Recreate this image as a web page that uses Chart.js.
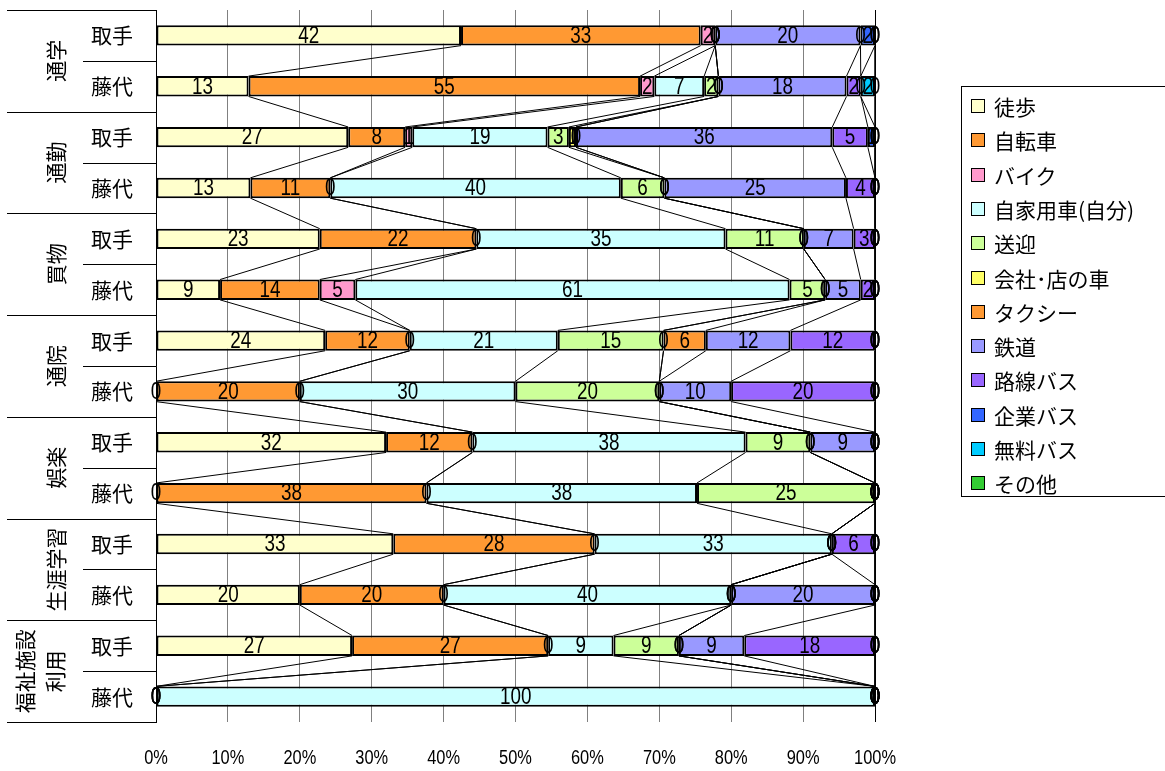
<!DOCTYPE html>
<html lang="ja">
<head>
<meta charset="utf-8">
<title>目的別 交通手段（取手・藤代）</title>
<script src="https://cdn.jsdelivr.net/npm/chart.js@4.4.1/dist/chart.umd.min.js"></script>
<style>
  html, body { margin: 0; padding: 0; background: #fff; overflow: hidden; }
  #wrap { position: relative; width: 1165px; height: 771px; }
  #chart { position: absolute; left: 0; top: 0; }
  #legend {
    position: absolute; left: 961px; top: 86px; width: 240px; height: 411px;
    border: 1px solid #000; box-sizing: border-box; background: #fff;
    font-family: 'Noto Sans CJK JP', sans-serif; font-size: 21px; color: #000;
  }
  #legend .item { position: absolute; left: 9px; height: 30px; display: flex; align-items: center; white-space: nowrap; }
  #legend .sw { width: 12px; height: 12px; border: 1.5px solid #000; margin-right: 9px; }
</style>
</head>
<body>
<div id="wrap">
  <canvas id="chart" width="1165" height="771"></canvas>
  <div id="legend"></div>
</div>
<script>
// 利用目的（大分類）と地区（小分類）
const purposes = [['通学'], ['通勤'], ['買物'], ['通院'], ['娯楽'], ['生涯学習'], ['福祉施設', '利用']];
const areas = ['取手', '藤代'];

// 交通手段ごとの構成比（%）：通学取手, 通学藤代, 通勤取手, 通勤藤代, 買物取手, 買物藤代,
// 通院取手, 通院藤代, 娯楽取手, 娯楽藤代, 生涯学習取手, 生涯学習藤代, 福祉取手, 福祉藤代
const walk       = [42, 13, 27, 13, 23,  9, 24,  0, 32,  0, 33, 20, 27,   0];
const bicycle    = [33, 55,  8, 11, 22, 14, 12, 20, 12, 38, 28, 20, 27,   0];
const motorbike  = [ 2,  2,  1,  0,  0,  5,  0,  0,  0,  0,  0,  0,  0,   0];
const ownCar     = [ 0,  7, 19, 40, 35, 61, 21, 30, 38, 38, 33, 40,  9, 100];
const pickup     = [ 0,  2,  3,  6, 11,  5, 15, 20,  9, 25,  0,  0,  9,   0];
const companyCar = [ 0,  0,  1,  0,  0,  0,  0,  0,  0,  0,  0,  0,  0,   0];
const taxi       = [ 0,  0,  0,  0,  0,  0,  6,  0,  0,  0,  0,  0,  0,   0];
const railway    = [20, 18, 36, 25,  7,  5, 12, 10,  9,  0,  0, 20,  9,   0];
const routeBus   = [ 0,  2,  5,  4,  3,  2, 12, 20,  0,  0,  6,  0, 18,   0];
const companyBus = [ 2,  0,  1,  0,  0,  0,  0,  0,  0,  0,  0,  0,  0,   0];
const freeBus    = [ 0,  2,  0,  0,  0,  0,  0,  0,  0,  0,  0,  0,  0,   0];
const other      = [ 0,  0,  0,  0,  0,  0,  0,  0,  0,  0,  0,  0,  0,   0];

const seriesNames = ['徒歩', '自転車', 'バイク', '自家用車(自分)', '送迎', '会社･店の車',
                     'タクシー', '鉄道', '路線バス', '企業バス', '無料バス', 'その他'];
const seriesColors = ['#FFFFCC', '#FF9933', '#FF99CC', '#CCFFFF', '#CCFF99', '#FFFF66',
                      '#FF9933', '#9999FF', '#9966FF', '#3366FF', '#00CCFF', '#33CC33'];
const seriesValues = [walk, bicycle, motorbike, ownCar, pickup, companyCar,
                      taxi, railway, routeBus, companyBus, freeBus, other];

const xTickValues = [0, 10, 20, 30, 40, 50, 60, 70, 80, 90, 100];
const xTickLabels = ['0%', '10%', '20%', '30%', '40%', '50%', '60%', '70%', '80%', '90%', '100%'];

const rowLabels = purposes.flatMap(() => areas);
const rowTotals = rowLabels.map((_, i) => seriesValues.reduce((s, arr) => s + arr[i], 0));

const NUM_FONT = '"Liberation Sans", Arial, sans-serif';
const NARROW = 0.82; // 数字は細身に描く
const JP_FONT = '"Noto Sans CJK JP", sans-serif';

const datasets = seriesNames.map((name, s) => ({
  label: name,
  data: seriesValues[s].map((v, i) => v / rowTotals[i] * 100),
  rawValues: seriesValues[s],
  backgroundColor: seriesColors[s],
  borderColor: '#000',
  borderWidth: 2,
  borderSkipped: false,
  barPercentage: 0.8,
  categoryPercentage: 0.5
}));

function narrowText(ctx, text, x, y) {
  ctx.save();
  ctx.translate(x, y);
  ctx.scale(NARROW, 1);
  ctx.fillText(text, 0, 0);
  ctx.restore();
}

// 同じ系列の区切りを隣の棒どうしで結ぶ区分線
const seriesLines = {
  id: 'seriesLines',
  afterDatasetsDraw(chart) {
    const ctx = chart.ctx;
    ctx.save();
    ctx.strokeStyle = '#000';
    ctx.lineWidth = 1;
    chart.data.datasets.forEach((ds, s) => {
      const els = chart.getDatasetMeta(s).data;
      for (let i = 0; i < els.length - 1; i++) {
        const a = els[i], b = els[i + 1];
        ctx.beginPath();
        ctx.moveTo(a.x, a.y + a.height / 2);
        ctx.lineTo(b.x, b.y - b.height / 2);
        ctx.stroke();
      }
    });
    ctx.restore();
  }
};

// 各区間の中央に値を表示
const valueLabels = {
  id: 'valueLabels',
  afterDatasetsDraw(chart) {
    const ctx = chart.ctx;
    ctx.save();
    ctx.font = '23px ' + NUM_FONT;
    ctx.fillStyle = '#000';
    ctx.textAlign = 'center';
    ctx.textBaseline = 'middle';
    chart.data.datasets.forEach((ds, s) => {
      chart.getDatasetMeta(s).data.forEach((el, i) => {
        narrowText(ctx, String(ds.rawValues[i]), (el.x + el.base) / 2, el.y + 1);
      });
    });
    ctx.restore();
  }
};

// 目的の区分（縦書き）、区切り線、横軸の目盛ラベル
const axisDecor = {
  id: 'axisDecor',
  afterDraw(chart) {
    const ctx = chart.ctx;
    const area = chart.chartArea;
    const n = rowLabels.length;
    const catH = (area.bottom - area.top) / n;
    ctx.save();
    ctx.strokeStyle = '#000';
    ctx.lineWidth = 1;
    for (let k = 0; k <= n; k++) {
      const y = Math.round(area.top + k * catH) + 0.5;
      ctx.beginPath();
      ctx.moveTo(k % 2 === 0 ? 7 : 83, y);
      ctx.lineTo(area.left, y);
      ctx.stroke();
    }
    ctx.font = '21px ' + JP_FONT;
    ctx.fillStyle = '#000';
    ctx.textAlign = 'center';
    ctx.textBaseline = 'middle';
    purposes.forEach((lines, g) => {
      const cy = area.top + (2 * g + 1) * catH;
      const xs = lines.length === 1 ? [56] : [25, 55];
      lines.forEach((t, j) => {
        ctx.save();
        ctx.translate(xs[j], cy);
        ctx.rotate(-Math.PI / 2);
        ctx.fillText(t, 0, 0);
        ctx.restore();
      });
    });
    const xs = chart.scales.x;
    ctx.font = '20px ' + NUM_FONT;
    xTickValues.forEach((v, i) => {
      narrowText(ctx, xTickLabels[i], xs.getPixelForValue(v), 758);
    });
    ctx.restore();
  }
};

new Chart(document.getElementById('chart'), {
  type: 'bar',
  data: { labels: rowLabels, datasets },
  options: {
    indexAxis: 'y',
    responsive: false,
    animation: false,
    devicePixelRatio: 1,
    layout: { padding: { left: 0, top: 10, right: 290, bottom: 0 } },
    plugins: { legend: { display: false }, tooltip: { enabled: false } },
    scales: {
      x: {
        stacked: true,
        min: 0,
        max: 100,
        afterBuildTicks(scale) { scale.ticks = xTickValues.map(v => ({ value: v })); },
        afterFit(scale) { scale.height = 49; scale.paddingLeft = 0; scale.paddingRight = 0; },
        ticks: { display: false },
        grid: {
          drawTicks: false,
          color: (c) => (c.tick && c.tick.value === 100 ? '#000' : '#808080'),
          lineWidth: 1
        },
        border: { display: false }
      },
      y: {
        stacked: true,
        afterFit(scale) { scale.width = 156; scale.paddingTop = 0; scale.paddingBottom = 0; },
        ticks: {
          padding: 23,
          color: '#000',
          font: { family: JP_FONT, size: 21 }
        },
        grid: { display: false, drawTicks: false },
        border: { display: true, color: '#000', width: 1 }
      }
    }
  },
  plugins: [seriesLines, valueLabels, axisDecor]
});

// 凡例
const legend = document.getElementById('legend');
seriesNames.forEach((name, s) => {
  const item = document.createElement('div');
  item.className = 'item';
  item.style.top = (4 + s * 34.3) + 'px';
  const sw = document.createElement('span');
  sw.className = 'sw';
  sw.style.background = seriesColors[s];
  const label = document.createElement('span');
  label.textContent = name;
  item.appendChild(sw);
  item.appendChild(label);
  legend.appendChild(item);
});
</script>
</body>
</html>
